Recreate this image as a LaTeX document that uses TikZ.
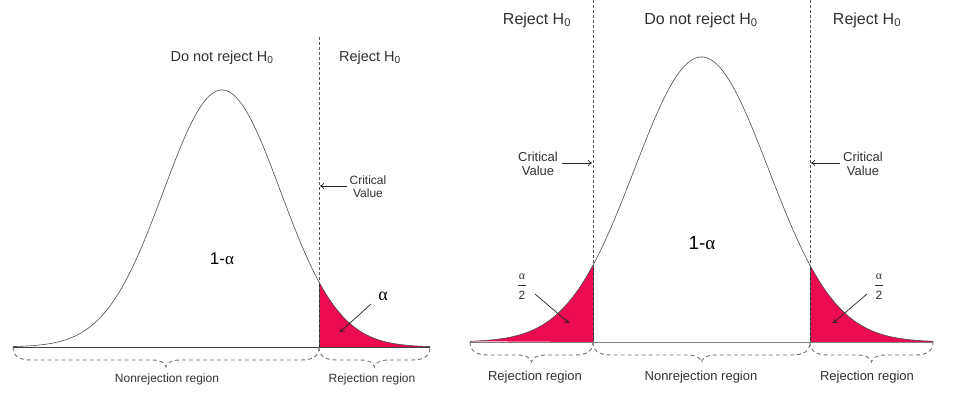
\documentclass[tikz,border=0pt]{standalone}
\usepackage{fontspec}
\setmainfont{Liberation Sans}
\newfontfamily\greekf{Liberation Serif}
\usetikzlibrary{arrows.meta}
\definecolor{tailred}{RGB}{236,10,80}
\definecolor{txt}{RGB}{50,50,50}
\newcommand{\fL}[1]{347-257*exp(-0.5*((#1-222)/58.5)*((#1-222)/58.5))}
\newcommand{\fR}[1]{342-285*exp(-0.5*((#1-701.5)/67)*((#1-701.5)/67))}
% dashed curly brace under the axis: #1 left x, #2 right x, #3 axis y
\newcommand{\dbrace}[3]{%
  \draw[brc] (#1,#3) .. controls (#1,{#3+9}) and ({#1+6},{#3+13}) .. ({#1+18},{#3+13})
    -- ({(#1+#2)/2-14},{#3+13}) .. controls ({(#1+#2)/2-5},{#3+13}) and ({(#1+#2)/2-1},{#3+16}) .. ({(#1+#2)/2},{#3+20})
    .. controls ({(#1+#2)/2+1},{#3+16}) and ({(#1+#2)/2+5},{#3+13}) .. ({(#1+#2)/2+14},{#3+13})
    -- ({#2-18},{#3+13}) .. controls ({#2-6},{#3+13}) and (#2,{#3+9}) .. (#2,#3);}
\begin{document}
\begin{tikzpicture}[x=1pt,y=-1pt,
  hdL/.style={text=txt,font=\fontsize{14.5}{16}\selectfont,inner sep=0},
  hdR/.style={text=txt,font=\fontsize{16}{18}\selectfont,inner sep=0},
  cvL/.style={text=txt,font=\fontsize{12}{13}\selectfont,align=center,inner sep=0},
  cvR/.style={text=txt,font=\fontsize{13}{14}\selectfont,align=center,inner sep=0},
  rgL/.style={text=txt,font=\fontsize{12}{13}\selectfont,inner sep=0},
  rgR/.style={text=txt,font=\fontsize{13}{14}\selectfont,inner sep=0},
  oneL/.style={text=black,font=\fontsize{17}{19}\selectfont,inner sep=0},
  oneR/.style={text=black,font=\fontsize{19}{21}\selectfont,inner sep=0},
  alph/.style={text=black,font=\fontsize{18}{20}\selectfont\greekf,inner sep=0},
  fracpart/.style={text=txt,font=\fontsize{12}{13}\selectfont,inner sep=0},
  fracbar/.style={draw=txt,line width=0.8pt},
  critline/.style={draw=black!65,dash pattern=on 3pt off 2pt,line width=0.6pt},
  curve/.style={draw=black!70,line width=0.6pt},
  tail/.style={fill=tailred},
  arr/.style={-{To[length=4pt,width=6pt]},line width=0.7pt,draw=black!85},
  brc/.style={draw=black!55,dash pattern=on 4pt off 3pt,line width=0.9pt}]

\useasboundingbox[fill=white] (0,0) rectangle (954,396);

% ---------------- left panel ----------------
\fill[tail] (319,347) -- plot[domain=319:430,samples=60] (\x,{\fL{\x}}) -- (430,347) -- cycle;
\draw[black!85,line width=0.7pt] (319,347) -- (319,{\fL{319}});
\draw[curve] plot[domain=13:430,samples=200] (\x,{\fL{\x}});
\draw[black!75,line width=0.9pt] (13,347) -- (430,347);
\draw[critline] (319,37) -- (319,347);

\node[hdL] (dnrL) at (222,58) {Do not reject H\textsubscript{0}};
\node[hdL] (rjL) at (370,58) {Reject H\textsubscript{0}};
\node[cvL] (cvl) at (368,187) {Critical\\Value};
\coordinate (cvlTip) at (320,186);
\coordinate (cvlStart) at (347,186);
\draw[arr] (cvlStart) -- (cvlTip);
\node[oneL] (oneAl) at (222,259) {1-{\greekf α}};
\node[alph] (alL) at (383,296) {α};
\coordinate (alLs) at (371,304);
\coordinate (alLt) at (340,332);
\draw[arr] (alLs) -- (alLt);

\dbrace{13}{319}{347}
\dbrace{319}{430}{347}
\node[rgL] (nrL) at (167,379) {Nonrejection region};
\node[rgL] (rrL) at (372,379) {Rejection region};

% ---------------- right panel ----------------
\fill[tail] plot[domain=470:593,samples=60] (\x,{\fR{\x}}) -- (593,342) -- cycle;
\fill[tail] (810,342) -- plot[domain=810:933,samples=60] (\x,{\fR{\x}}) -- (933,342) -- cycle;
\draw[black!85,line width=0.7pt] (593,342) -- (593,{\fR{593}});
\draw[black!85,line width=0.7pt] (810,342) -- (810,{\fR{810}});
\draw[curve] plot[domain=470:933,samples=240] (\x,{\fR{\x}});
\draw[black!50,line width=1pt] (470,342) -- (933,342);
\draw[critline] (593,0) -- (593,342);
\draw[critline] (810,0) -- (810,342);

\node[hdR] (rjR1) at (537,20) {Reject H\textsubscript{0}};
\node[hdR] (dnrR) at (701,20) {Do not reject H\textsubscript{0}};
\node[hdR] (rjR2) at (867,20) {Reject H\textsubscript{0}};

\node[cvR] (cvr1) at (538,164) {Critical\\Value};
\coordinate (cvr1s) at (562,163);
\coordinate (cvr1t) at (592,163);
\draw[arr] (cvr1s) -- (cvr1t);
\node[cvR] (cvr2) at (863,164) {Critical\\Value};
\coordinate (cvr2s) at (840,163);
\coordinate (cvr2t) at (811,163);
\draw[arr] (cvr2s) -- (cvr2t);

\node[oneR] (oneAr) at (702,243) {1-{\greekf α}};

\node[fracpart] (fr1a) at (522,277) {\greekf α};
\node[fracpart] (fr1b) at (522,295) {2};
\draw[fracbar] ([xshift=-4pt,yshift=-8.5pt]fr1a.center) -- ([xshift=4pt,yshift=-8.5pt]fr1a.center);
\coordinate (fr1s) at (535,294);
\coordinate (fr1t) at (569,323);
\draw[arr] (fr1s) -- (fr1t);
\node[fracpart] (fr2a) at (879,277) {\greekf α};
\node[fracpart] (fr2b) at (879,295) {2};
\draw[fracbar] ([xshift=-4pt,yshift=-8.5pt]fr2a.center) -- ([xshift=4pt,yshift=-8.5pt]fr2a.center);
\coordinate (fr2s) at (867,294);
\coordinate (fr2t) at (833,323);
\draw[arr] (fr2s) -- (fr2t);

\dbrace{470}{593}{342}
\dbrace{593}{810}{342}
\dbrace{810}{933}{342}
\node[rgR] (rr1) at (535,377) {Rejection region};
\node[rgR] (nrR) at (701,377) {Nonrejection region};
\node[rgR] (rr2) at (867,377) {Rejection region};
\end{tikzpicture}
\end{document}
